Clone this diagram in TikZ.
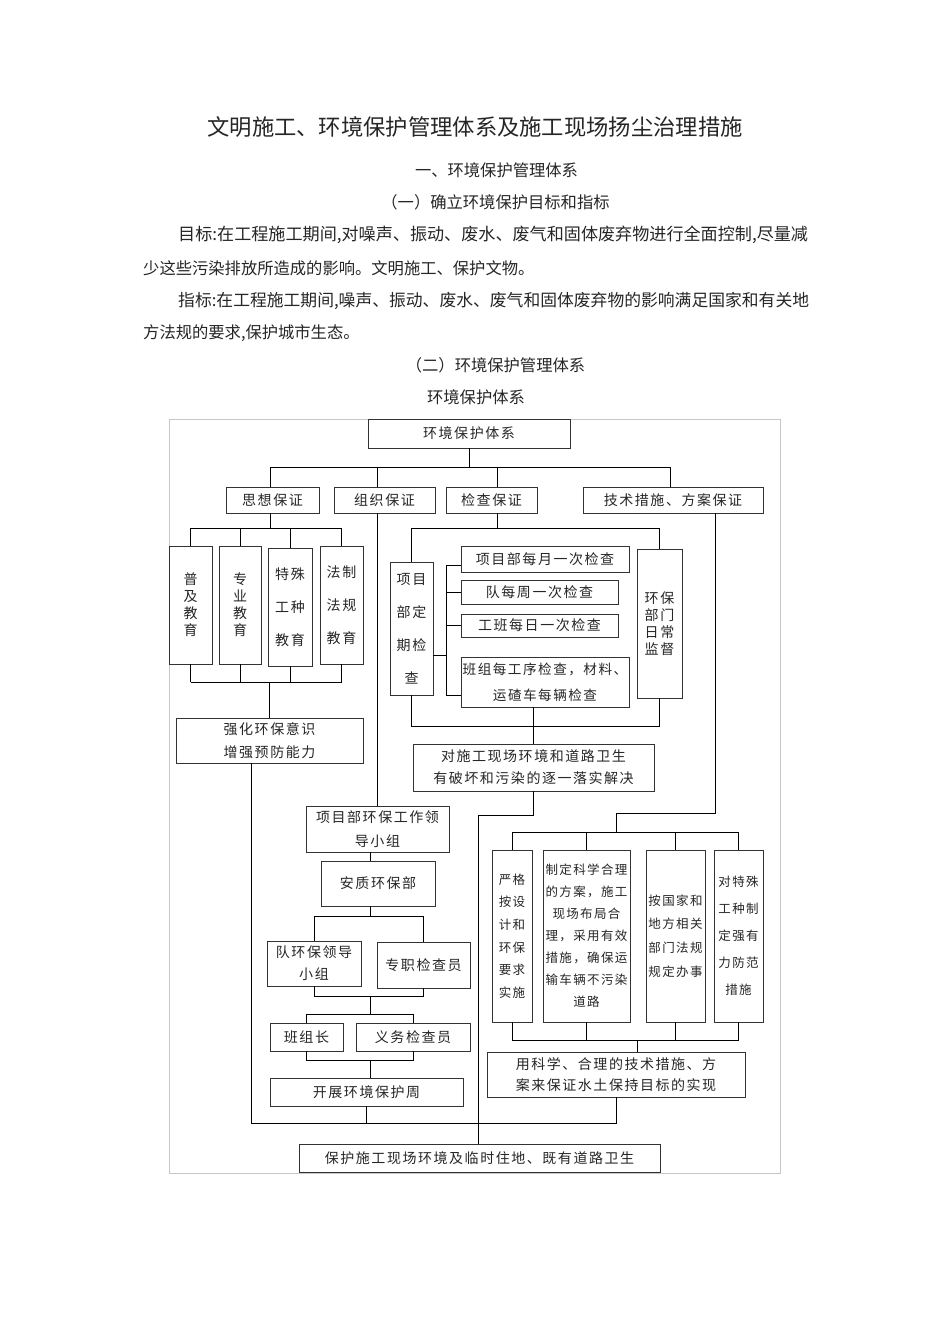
\documentclass[tikz,border=0pt]{standalone}
\usepackage{fontspec}
\setmainfont{Noto Sans CJK SC}
\newfontfamily\boxfont[LetterSpace=11]{Noto Sans CJK SC}

\begin{document}
\begin{tikzpicture}[x=1pt, y=-1pt,
    box/.style n args={2}{draw=black!80, line width=0.9pt, inner sep=1pt,
        align=center, text=black!85, minimum width=#1, minimum height=#2},
    txt/.style={font=\boxfont\fontsize{14}{#1}\selectfont},
    techtxt/.style={font=\boxfont\fontsize{12.5}{#1}\selectfont},
    link/.style={line width=0.8pt, black},
    para/.style={inner sep=0pt, text=black!85, font=\fontsize{16.3}{20}\selectfont}]

    % PAGE
    \useasboundingbox (0,0) rectangle (950,1344);
    \fill[white] (0,0) rectangle (950,1344);

    % HEADINGS AND TEXT
    \node[para, font=\fontsize{22.3}{26}\selectfont] (title) at (475,127)
        {文明施工、环境保护管理体系及施工现场扬尘治理措施};
    \node[para] (sec1) at (496.5,170) {一、环境保护管理体系};
    \node[para] (sub1) at (495.5,202) {（一）确立环境保护目标和指标};
    \node[para, anchor=west, font=\fontsize{17.1}{20}\selectfont] (goal1) at (178,235)
        {目标:在工程施工期间,对噪声、振动、废水、废气和固体废弃物进行全面控制,尽量减};
    \node[para, anchor=west] (goal2) at (143,268)
        {少这些污染排放所造成的影响。文明施工、保护文物。};
    \node[para, anchor=west, font=\fontsize{16.8}{20}\selectfont] (index1) at (178,301)
        {指标:在工程施工期间,噪声、振动、废水、废气和固体废弃物的影响满足国家和有关地};
    \node[para, anchor=west] (index2) at (143,333)
        {方法规的要求,保护城市生态。};
    \node[para] (sub2) at (495.5,365) {（二）环境保护管理体系};
    \node[para] (figtitle) at (476,397) {环境保护体系};

    % FRAME
    \draw[black!22, line width=0.8pt] (169,419) rectangle (780,1173);

    % TOP LEVEL
    \node[box={202pt}{29pt}, txt=22] (root) at (469,433.5) {环境保护体系};
    \node[box={93pt}{26pt}, txt=22] (sx) at (272.5,500) {思想保证};
    \node[box={101pt}{26pt}, txt=22] (zz) at (384.5,500) {组织保证};
    \node[box={91pt}{26pt}, txt=22] (jc) at (491.5,500) {检查保证};
    \node[box={180pt}{26pt}, txt=22] (js) at (673,500) {技术措施、方案保证};

    % EDUCATION BOXES
    \node[box={43pt}{118pt}, txt=17] (pj) at (190.5,605) {普\\及\\教\\育};
    \node[box={42pt}{118pt}, txt=17] (zy) at (240,605) {专\\业\\教\\育};
    \node[box={44pt}{118pt}, txt=33] (ts) at (290,607) {特殊\\工种\\教育};
    \node[box={43pt}{118pt}, txt=33] (fz) at (341.5,605) {法制\\法规\\教育};
    \node[box={187pt}{45pt}, txt=23] (qh) at (269.5,740.5) {强化环保意识\\增强预防能力};

    % INSPECTION BOXES
    \node[box={43pt}{133pt}, txt=33] (dq) at (411.5,628.5) {项目\\部定\\期检\\查};
    \node[box={168pt}{26pt}, txt=22] (c1) at (545,559) {项目部每月一次检查};
    \node[box={157pt}{24pt}, txt=22] (c2) at (539.5,592) {队每周一次检查};
    \node[box={157pt}{23pt}, txt=22] (c3) at (539.5,625.5) {工班每日一次检查};
    \node[box={168pt}{50pt}, font=\boxfont\fontsize{13.6}{26}\selectfont] (c4) at (545,682)
        {班组每工序检查，材料、\\运碴车每辆检查};
    \node[box={45pt}{149pt}, txt=17] (hb) at (659.5,623.5) {环保\\部门\\日常\\监督};
    \node[box={241pt}{47pt}, txt=22] (ds) at (533.5,767.5)
        {对施工现场环境和道路卫生\\有破坏和污染的逐一落实解决};

    % ORGANISATION BOXES
    \node[box={143pt}{46pt}, txt=24] (ldr) at (377.5,829) {项目部环保工作领\\导小组};
    \node[box={114pt}{45pt}, txt=22] (aq) at (378,883.5) {安质环保部};
    \node[box={94pt}{45pt}, txt=22] (dh) at (314,963.5) {队环保领导\\小组};
    \node[box={93pt}{46pt}, txt=22] (zj) at (423.5,965) {专职检查员};
    \node[box={73pt}{28pt}, txt=22] (bzz) at (306.5,1037) {班组长};
    \node[box={114pt}{28pt}, txt=22] (yw) at (413,1037) {义务检查员};
    \node[box={193pt}{28pt}, txt=22] (kz) at (366.5,1092) {开展环境保护周};

    % TECHNICAL BOXES
    \node[box={40pt}{172pt}, techtxt=22.6] (t1) at (512,936)
        {严格\\按设\\计和\\环保\\要求\\实施};
    \node[box={87pt}{172pt}, techtxt=22] (t2) at (586.5,936)
        {制定科学合理\\的方案，施工\\现场布局合\\理，采用有效\\措施，确保运\\输车辆不污染\\道路};
    \node[box={59pt}{172pt}, techtxt=23.6] (t3) at (675.5,936)
        {按国家和\\地方相关\\部门法规\\规定办事};
    \node[box={49pt}{172pt}, techtxt=27] (t4) at (738.5,936)
        {对特殊\\工种制\\定强有\\力防范\\措施};
    \node[box={258pt}{45pt}, txt=21] (yk) at (616,1074.5)
        {用科学、合理的技术措施、方\\案来保证水土保持目标的实现};

    % BOTTOM BOX
    \node[box={361pt}{28pt}, txt=22] (bh) at (479.5,1158)
        {保护施工现场环境及临时住地、既有道路卫生};

    % JUNCTIONS
    \coordinate (tb) at (469,467);
    \coordinate (tbL) at (270,467);
    \coordinate (tbS) at (670,467);
    \coordinate (tbZ) at (377,467);
    \coordinate (tbJ) at (497,467);
    \coordinate (sxb) at (270,528);
    \coordinate (edu) at (269,682);
    \coordinate (qhx) at (251,1123);
    \coordinate (spine) at (370,916);
    \coordinate (sp2) at (370,996);
    \coordinate (sp3) at (370,1014);
    \coordinate (sp4) at (370,1060);
    \coordinate (jcb) at (497,528);
    \coordinate (brT) at (446,565);
    \coordinate (brM) at (446,655);
    \coordinate (brB) at (446,695);
    \coordinate (jcd) at (533,726);
    \coordinate (dsk) at (478,815);
    \coordinate (jsx) at (715,813);
    \coordinate (jsb) at (616,832);
    \coordinate (tbb) at (637,1040);

    % ROOT TO GUARANTEES
    \draw[link] (root.south) -- (tb);
    \draw[link] (tbL) -- (tbS);
    \draw[link] (tbL) -- (sx.north -| tbL);
    \draw[link] (tbZ) -- (zz.north -| tbZ);
    \draw[link] (tbJ) -- (jc.north -| tbJ);
    \draw[link] (tbS) -- (js.north -| tbS);

    % THOUGHT BRANCH
    \draw[link] (sx.south -| sxb) -- (sxb);
    \draw[link] (pj.north |- sxb) -- (fz.north |- sxb);
    \foreach \n in {pj,zy,ts,fz} {
        \draw[link] (\n.north) -- (\n.north |- sxb);
        \draw[link] (\n.south) -- (\n.south |- edu);
    }
    \draw[link] (pj.south |- edu) -- (fz.south |- edu);
    \draw[link] (edu) -- (qh.north -| edu);
    \draw[link] (qh.south -| qhx) -- (qhx) -- (yk.south |- qhx) -- (yk.south);

    % ORGANISATION BRANCH
    \draw[link] (zz.south -| tbZ) -- (ldr.north -| tbZ);
    \draw[link] (ldr.south -| spine) -- (aq.north -| spine);
    \draw[link] (aq.south -| spine) -- (spine);
    \draw[link] (dh.north |- spine) -- (zj.north |- spine);
    \draw[link] (dh.north) -- (dh.north |- spine);
    \draw[link] (zj.north) -- (zj.north |- spine);
    \draw[link] (dh.south) -- (dh.south |- sp2) -- (zj.south |- sp2) -- (zj.south);
    \draw[link] (sp2) -- (sp3);
    \draw[link] (bzz.north |- sp3) -- (yw.north |- sp3);
    \draw[link] (bzz.north) -- (bzz.north |- sp3);
    \draw[link] (yw.north) -- (yw.north |- sp3);
    \draw[link] (bzz.south) -- (bzz.south |- sp4) -- (yw.south |- sp4) -- (yw.south);
    \draw[link] (sp4) -- (kz.north -| sp4);
    \draw[link] (kz.south) -- (kz.south |- qhx);

    % INSPECTION BRANCH
    \draw[link] (jc.south -| jcb) -- (jcb);
    \draw[link] (dq.north |- jcb) -- (hb.north |- jcb);
    \draw[link] (dq.north) -- (dq.north |- jcb);
    \draw[link] (hb.north) -- (hb.north |- jcb);
    \draw[link] (brT) -- (brB);
    \draw[link] (brT) -- (c1.west |- brT);
    \draw[link] (c2.west -| brT) -- (c2.west);
    \draw[link] (c3.west -| brT) -- (c3.west);
    \draw[link] (brB) -- (c4.west |- brB);
    \draw[link] (dq.east |- brM) -- (brM);
    \draw[link] (dq.south) -- (dq.south |- jcd) -- (hb.south |- jcd) -- (hb.south);
    \draw[link] (c4.south -| jcd) -- (ds.north -| jcd);
    \draw[link] (ds.south) -- (ds.south |- dsk) -- (dsk) -- (bh.north -| dsk);

    % TECHNICAL BRANCH
    \draw[link] (js.south -| jsx) -- (jsx) -| (jsb);
    \draw[link] (t1.north |- jsb) -- (t4.north |- jsb);
    \draw[link] (t1.south |- tbb) -- (t4.south |- tbb);
    \foreach \n in {t1,t2,t3,t4} {
        \draw[link] (\n.north) -- (\n.north |- jsb);
        \draw[link] (\n.south) -- (\n.south |- tbb);
    }
    \draw[link] (tbb) -- (yk.north -| tbb);

\end{tikzpicture}
\end{document}
